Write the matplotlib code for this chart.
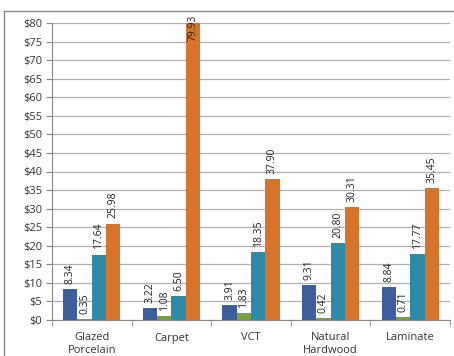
import matplotlib
matplotlib.use("Agg")
import matplotlib.pyplot as plt
from matplotlib.lines import Line2D
import numpy as np

categories = ["Glazed\nPorcelain", "Carpet", "VCT", "Natural\nHardwood", "Laminate"]
series1 = [8.34, 3.22, 3.91, 9.31, 8.84]
series2 = [0.35, 1.08, 1.83, 0.42, 0.71]
series3 = [17.64, 6.50, 18.35, 20.80, 17.77]
series4 = [25.98, 79.93, 37.90, 30.31, 35.45]
yticks = list(range(0, 85, 5))
ytick_labels = [f"${v}" for v in yticks]

colors = ["#3A5F9C", "#77A03A", "#2C8BA6", "#D8732A"]
all_series = [series1, series2, series3, series4]

plt.rcParams['font.family'] = ['Open Sans', 'DejaVu Sans']

fig = plt.figure(figsize=(4.54, 3.56), dpi=100)
ax = fig.add_axes([52/454, 1-320/356, (450-52)/454, (320-23)/356])

x = np.arange(len(categories))
w = 0.18
offsets = [-1.5, -0.5, 0.5, 1.5]
ymax = 80
for s, c, o in zip(all_series, colors, offsets):
    bars = ax.bar(x + o*w, s, width=w, color=c, zorder=3)
    for b, v in zip(bars, s):
        xc = b.get_x() + b.get_width()/2
        if v + 8 > ymax:
            ax.text(xc, ymax + 2.3, f"{v:.2f}", rotation=90, ha='center', va='top',
                    fontsize=7.5, color='#222222', zorder=4)
        else:
            ax.text(xc, v + 1.4, f"{v:.2f}", rotation=90, ha='center', va='bottom',
                    fontsize=7.5, color='#222222', zorder=4)

ax.set_xlim(-0.5, len(categories) - 0.5)
ax.set_ylim(0, ymax)
ax.set_yticks(yticks)
ax.set_yticklabels(ytick_labels, fontsize=8, color='#333333')
ax.set_xticks(x)
ax.set_xticklabels(categories, fontsize=8, color='#333333')
ax.tick_params(axis='x', length=0, pad=9)
ax.set_xticks(np.arange(-0.5, len(categories)), minor=True)
ax.tick_params(axis='x', which='minor', length=4, color='#888888', direction='out')
ax.tick_params(axis='y', length=4, color='#888888', pad=3)
ax.grid(axis='y', color='#b0b0b0', linewidth=0.9, zorder=0)
for sp in ['top', 'right']:
    ax.spines[sp].set_visible(False)
ax.spines['left'].set_color('#888888')
ax.spines['bottom'].set_color('#888888')

fig.add_artist(Line2D([4/454, 4/454], [0, 1-11/356], color='#8a8a8a', linewidth=1.0))
fig.add_artist(Line2D([4/454, 1], [1-11/356, 1-11/356], color='#8a8a8a', linewidth=1.0))

fig.savefig("out.png", dpi=100)
